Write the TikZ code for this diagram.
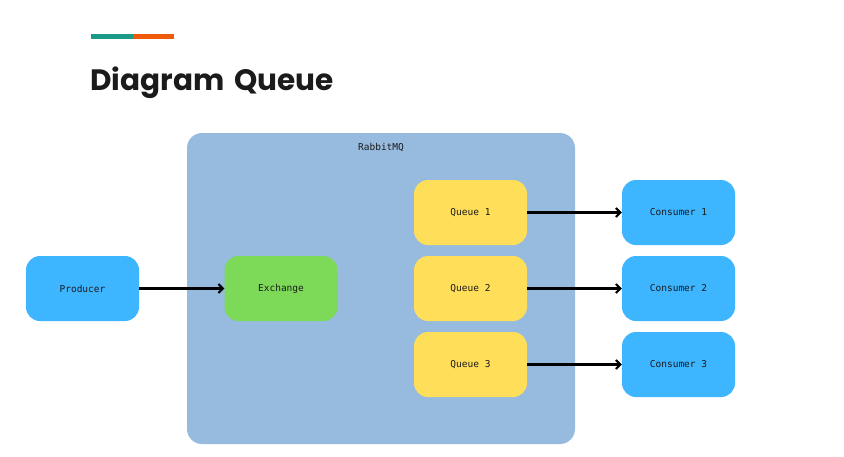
\documentclass[tikz,border=0pt]{standalone}
\usepackage{fontspec}
\newfontfamily\titlefont{Poppins}
\newfontfamily\monofont{DejaVu Sans Mono}
\usetikzlibrary{arrows.meta}
\definecolor{teal1}{HTML}{1A9A88}
\definecolor{orange1}{HTML}{EE5A0A}
\definecolor{rmq}{HTML}{97BADF}
\definecolor{blue1}{HTML}{3DB5FF}
\definecolor{green1}{HTML}{7DDA58}
\definecolor{yellow1}{HTML}{FFDE59}
\definecolor{ink}{HTML}{1B1B1B}
\tikzset{
  box/.style={rounded corners=14pt, minimum width=113pt, minimum height=65pt, inner sep=0pt, font=\monofont\fontsize{9.5}{11}\selectfont, text=ink},
  prod/.style={box, fill=blue1},
  exch/.style={box, fill=green1},
  que/.style={box, fill=yellow1},
  link/.style={draw=black, line width=2.2pt, -{Straight Barb[length=4.5pt,width=9pt,line width=2pt]}}
}
\begin{document}
\begin{tikzpicture}[x=1pt,y=-1pt]
\useasboundingbox[fill=white] (0,0) rectangle (844,456);
\fill[teal1] (91,34) rectangle (133,38.5);
\fill[orange1] (133,34) rectangle (174,38.5);
\node[anchor=base west, inner sep=0pt, font=\titlefont\bfseries\fontsize{29.5}{34}\selectfont, text=ink] (title) at (90,90) {Diagram\hspace{4pt} Queue};
\node[fill=rmq, rounded corners=15pt, minimum width=388pt, minimum height=311pt, inner sep=0pt] (rabbit) at (381,288.5) {};
\node[font=\monofont\fontsize{9.5}{11}\selectfont, text=ink] (rlabel) at (381,148) {RabbitMQ};
\node[prod] (producer) at (82.5,288.5) {Producer};
\node[exch] (exchange) at (281,288.5) {Exchange};
\node[que] (q1) at (470.5,212.5) {Queue 1};
\node[que] (q2) at (470.5,288.5) {Queue 2};
\node[que] (q3) at (470.5,364.5) {Queue 3};
\node[prod] (c1) at (678.5,212.5) {Consumer 1};
\node[prod] (c2) at (678.5,288.5) {Consumer 2};
\node[prod] (c3) at (678.5,364.5) {Consumer 3};
\draw[link] (producer) -- (exchange);
\draw[link] (q1) -- (c1);
\draw[link] (q2) -- (c2);
\draw[link] (q3) -- (c3);
\end{tikzpicture}
\end{document}
